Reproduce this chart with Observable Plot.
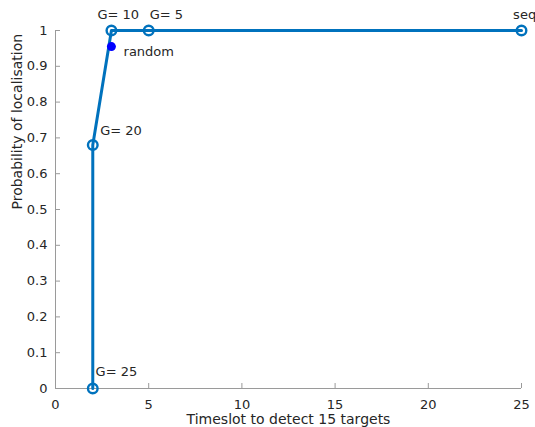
<!DOCTYPE html>
<html><head><meta charset="utf-8">
<script src="https://cdn.jsdelivr.net/npm/d3@7"></script>
<script src="https://cdn.jsdelivr.net/npm/@observablehq/plot@0.6"></script>
<style>body{margin:0;background:#fff;} svg{font-family:"DejaVu Sans",sans-serif;}</style>
</head><body><div id="chart"></div>
<script>
const timeslots = [2, 2, 3, 5, 25];
const probs = [0, 0.68, 1, 1, 1];
const labels = ["G= 25", "G= 20", "G= 10", "G= 5", "seq"];
const labelX = [2.15, 2.4, 2.25, 5.05, 24.55];
const labelY = [0.047, 0.72, 1.045, 1.045, 1.045];
const randomX = [3];
const randomY = [0.955];
const randomLabel = ["random"];
const randomLabelX = [3.65];
const randomLabelY = [0.94];
const xTicks = [0, 5, 10, 15, 20, 25];
const yTicks = [0, 0.1, 0.2, 0.3, 0.4, 0.5, 0.6, 0.7, 0.8, 0.9, 1];

const pts = timeslots.map((x, i) => ({x, y: probs[i]}));
const lab = labels.map((t, i) => ({t, x: labelX[i], y: labelY[i]}));
const rnd = randomX.map((x, i) => ({x, y: randomY[i]}));
const rlab = randomLabel.map((t, i) => ({t, x: randomLabelX[i], y: randomLabelY[i]}));

const chart = Plot.plot({
  width: 535, height: 427,
  marginLeft: 55, marginRight: 14, marginTop: 30, marginBottom: 39,
  style: {fontFamily: "DejaVu Sans, sans-serif", fontSize: "13px", color: "#262626", overflow: "visible"},
  x: {domain: [0, 25]},
  y: {domain: [0, 1]},
  marks: [
    Plot.ruleX([0], {stroke: "#9a9a9a"}),
    Plot.ruleY([0], {stroke: "#9a9a9a"}),
    Plot.axisX({ticks: xTicks, tickSize: -5, stroke: "#9a9a9a", tickPadding: 16, fill: "#262626", fontSize: 13, label: null}),
    Plot.axisY({ticks: yTicks, tickSize: -5, stroke: "#9a9a9a", tickPadding: 13, fill: "#262626", fontSize: 13, label: null, tickFormat: d => String(+d.toFixed(1))}),
    Plot.text(["Timeslot to detect 15 targets"], {frameAnchor: "bottom", lineAnchor: "middle", dy: 31, fill: "#262626", fontSize: 14}),
    Plot.text(["Probability of localisation"], {frameAnchor: "left", dx: -38, rotate: -90, fill: "#262626", fontSize: 14}),
    Plot.line(pts, {x: "x", y: "y", stroke: "#0072BD", strokeWidth: 3}),
    Plot.dot(pts, {x: "x", y: "y", r: 4.8, stroke: "#0072BD", strokeWidth: 2.4, fill: "none"}),
    Plot.dot(rnd, {x: "x", y: "y", r: 4.5, fill: "#0000FF", stroke: "none"}),
    Plot.text(lab, {x: "x", y: "y", text: "t", textAnchor: "start", fill: "#262626", fontSize: 13}),
    Plot.text(rlab, {x: "x", y: "y", text: "t", textAnchor: "start", fill: "#262626", fontSize: 13})
  ]
});
document.getElementById("chart").appendChild(chart);
</script></body></html>
